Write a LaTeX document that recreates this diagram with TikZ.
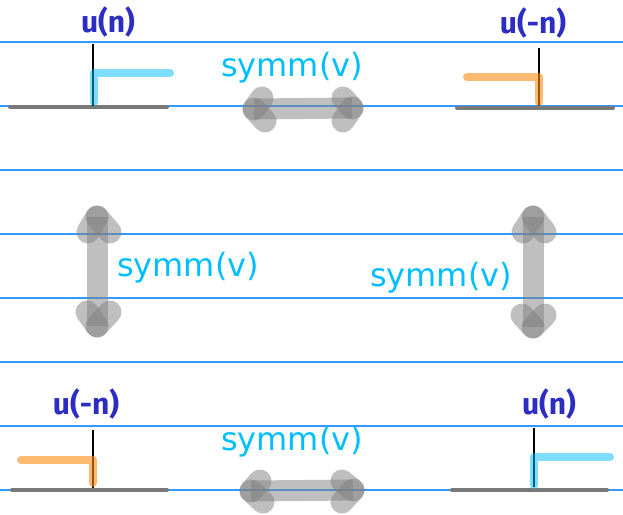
\documentclass[tikz,border=0pt]{standalone}
\usepackage{fontspec}
\setsansfont{DejaVu Sans}
\newfontfamily\handfont{Fira Sans}
\definecolor{rulecol}{RGB}{51,153,255}
\definecolor{stepcyan}{RGB}{0,190,255}
\definecolor{steporange}{RGB}{255,140,20}
\definecolor{handblue}{RGB}{45,45,195}
\definecolor{symmcol}{RGB}{0,190,255}
\begin{document}
\begin{tikzpicture}[x=1pt, y=-1pt,
  rule/.style={rulecol, line width=1.2},
  axis/.style={gray!95!black, line width=4, line cap=round},
  stem/.style={black, line width=2},
  ustep/.style={stepcyan, opacity=0.5, line width=8, line cap=round, line join=round},
  rstep/.style={steporange, opacity=0.6, line width=8, line cap=round, line join=round},
  ulabel/.style={font=\handfont\bfseries\fontsize{30}{32}\selectfont, text=handblue, inner sep=0},
  symmlabel/.style={font=\sffamily\fontsize{32}{35}\selectfont, text=symmcol, inner sep=0},
  symmbar/.style={gray, opacity=0.5, line width=21},
  symmhead/.style={gray, opacity=0.5, line width=23, line cap=round}
]
\useasboundingbox (0,0) rectangle (623,514);

% Ruled lines
\foreach \ry in {42,106,...,490} \draw[rule] (0,\ry) -- (623,\ry);

% Top left: u(n)
\node[ulabel] (tl-label) at (108,22) {u(n)};
\coordinate (tl) at (93,106);
\draw[axis] (10,107) -- (167,107);
\draw[stem] (93,44) -- (tl);
\draw[ustep] (94,102) -- (94,73) -- (170,73);

% Top right: u(-n)
\node[ulabel] (tr-label) at (533,23) {u(-n)};
\coordinate (tr) at (539,106);
\draw[axis] (457,108) -- (613,108);
\draw[stem] (539,48) -- (tr);
\draw[rstep] (467,77) -- (539,77) -- (539,102);

% Bottom left: u(-n)
\node[ulabel] (bl-label) at (86,404) {u(-n)};
\coordinate (bl) at (93,488);
\draw[axis] (12,490) -- (167,490);
\draw[stem] (93,430) -- (bl);
\draw[rstep] (21,460) -- (93,460) -- (93,483);

% Bottom right: u(n)
\node[ulabel] (br-label) at (549,404) {u(n)};
\coordinate (br) at (534,487);
\draw[axis] (452,490) -- (607,490);
\draw[stem] (534,428) -- (br);
\draw[ustep] (534,485) -- (534,457) -- (610,457);

% symm(v) labels
\node[symmlabel] (symm-top) at (292,68) {symm(v)};
\node[symmlabel] (symm-left) at (188,268) {symm(v)};
\node[symmlabel] (symm-right) at (441,278) {symm(v)};
\node[symmlabel] (symm-bot) at (292,442) {symm(v)};

% Double arrows
\coordinate (ta) at (254,109);
\coordinate (tb) at (352,108);
\draw[symmbar] (ta) -- (tb);
\draw[symmhead] (ta) -- ++(8,-11);
\draw[symmhead] (ta) -- ++(11,12);
\draw[symmhead] (tb) -- ++(-9,-10);
\draw[symmhead] (tb) -- ++(-9,13);

\coordinate (la) at (97,217);
\coordinate (lb) at (97,326);
\draw[symmbar] (la) -- (lb);
\draw[symmhead] (la) -- ++(-9,15);
\draw[symmhead] (la) -- ++(13,15);
\draw[symmhead] (lb) -- ++(-10,-14);
\draw[symmhead] (lb) -- ++(13,-14);

\coordinate (ra) at (533,217);
\coordinate (rb) at (533,327);
\draw[symmbar] (ra) -- (rb);
\draw[symmhead] (ra) -- ++(-10,15);
\draw[symmhead] (ra) -- ++(12,15);
\draw[symmhead] (rb) -- ++(-11,-12);
\draw[symmhead] (rb) -- ++(12,-12);

\coordinate (ba) at (251,491);
\coordinate (bb) at (353,490);
\draw[symmbar] (ba) -- (bb);
\draw[symmhead] (ba) -- ++(9,-10);
\draw[symmhead] (ba) -- ++(12,11);
\draw[symmhead] (bb) -- ++(-11,-9);
\draw[symmhead] (bb) -- ++(-11,12);

\end{tikzpicture}
\end{document}
